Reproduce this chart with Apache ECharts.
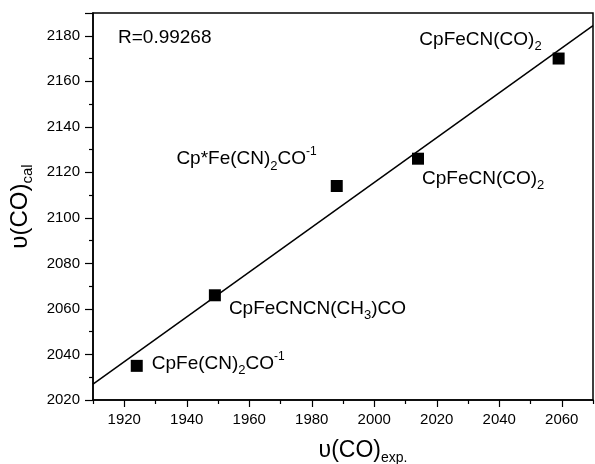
<!DOCTYPE html>
<html>
<head>
<meta charset="utf-8">
<script src="https://cdn.jsdelivr.net/npm/echarts@6/dist/echarts.min.js"></script>
<style>
  html, body { margin: 0; padding: 0; background: #fff; }
  #chart { width: 595px; height: 464px; }
</style>
</head>
<body>
<div id="chart"></div>
<script>
// measured points: v(CO) exp. vs v(CO) cal
var expVals = [1924, 1949, 1988, 2014, 2059]
var calVals = [2035, 2066, 2114, 2126, 2170]
var pointLabels = [
  '{n|CpFe(CN)}{sub|2}{n|CO}{sup|-1}',
  '{n|CpFeCNCN(CH}{sub|3}{n|)CO}',
  '{n|Cp*Fe(CN)}{sub|2}{n|CO}{sup|-1}',
  '{n|CpFeCN(CO)}{sub|2}',
  '{n|CpFeCN(CO)}{sub|2}'
]
// fitted line end points
var fitX = [1910, 2070]
var fitY = [2027, 2184.5]
var xMajorTicks = [1920, 1940, 1960, 1980, 2000, 2020, 2040, 2060]
var xMinorTicks = [1910, 1930, 1950, 1970, 1990, 2010, 2030, 2050, 2070]
var rText = 'R=0.99268'

var FONT = '"Liberation Sans", Arial, sans-serif'

// label placement per point: position, distance, offset
var labelPlace = [
  { position: 'right', distance: 9, offset: [0, -2] },
  { position: 'right', distance: 8, offset: [0, 13] },
  { position: 'left', distance: 14, offset: [0, -27] },
  { position: 'right', distance: 5, offset: [-7, 20] },
  { position: 'left', distance: 11, offset: [0, -19] }
]

var richStyle = {
  n: { fontSize: 19, fontFamily: FONT, color: '#000' },
  sub: { fontSize: 13, fontFamily: FONT, color: '#000', verticalAlign: 'bottom', padding: [14, 0, 0, 0] },
  sup: { fontSize: 12, fontFamily: FONT, color: '#000', verticalAlign: 'top', padding: [0, 0, 10, 0] }
}

var scatterData = []
for (var i = 0; i < expVals.length; i++) {
  scatterData.push({
    value: [expVals[i], calVals[i]],
    label: {
      show: true,
      formatter: pointLabels[i],
      position: labelPlace[i].position,
      distance: labelPlace[i].distance,
      offset: labelPlace[i].offset,
      rich: richStyle
    }
  })
}

function plain(v) { return String(v) }

var chart = echarts.init(document.getElementById('chart'), null, { renderer: 'canvas' })
chart.setOption({
  backgroundColor: '#fff',
  animation: false,
  textStyle: { fontFamily: FONT },
  grid: {
    left: 93,
    top: 13,
    right: 2,
    bottom: 64,
    outerBoundsMode: 'none',
    containLabel: false,
    show: true,
    borderColor: '#000',
    borderWidth: 1.5
  },
  graphic: [{
    type: 'text',
    left: 118,
    top: 28,
    style: { text: rText, fontSize: 19, fontFamily: FONT, fill: '#000' }
  }],
  xAxis: [{
    type: 'value',
    min: 1910,
    max: 2070,
    splitLine: { show: false },
    axisLine: { lineStyle: { color: '#000', width: 1.5 } },
    axisTick: { customValues: xMajorTicks, length: 7, lineStyle: { color: '#000', width: 1.2 } },
    axisLabel: { customValues: xMajorTicks, formatter: plain, color: '#000', fontSize: 15, margin: 12, fontFamily: FONT },
    name: '{u|υ(CO)}{s|exp.}',
    nameLocation: 'middle',
    nameGap: 37,
    nameTextStyle: {
      padding: [0, 0, 0, 40],
      rich: {
        u: { fontSize: 23, fontFamily: FONT, color: '#000' },
        s: { fontSize: 14, fontFamily: FONT, color: '#000', verticalAlign: 'bottom', padding: [14, 0, 0, 0] }
      }
    }
  }, {
    type: 'value',
    min: 1910,
    max: 2070,
    position: 'bottom',
    splitLine: { show: false },
    axisLine: { show: false },
    axisTick: { customValues: xMinorTicks, length: 4, lineStyle: { color: '#000', width: 1.2 } },
    axisLabel: { show: false }
  }],
  yAxis: {
    type: 'value',
    min: 2020,
    max: 2190,
    interval: 20,
    splitLine: { show: false },
    axisLine: { show: true, lineStyle: { color: '#000', width: 1.5 } },
    axisTick: { show: true, length: 8, lineStyle: { color: '#000', width: 1.2 } },
    minorTick: { show: true, splitNumber: 2, length: 4, lineStyle: { color: '#000', width: 1.2 } },
    axisLabel: { formatter: plain, color: '#000', fontSize: 15, margin: 13, fontFamily: FONT, showMaxLabel: false },
    name: '{u|υ(CO)}{s|cal}',
    nameLocation: 'middle',
    nameGap: 58,
    nameTextStyle: {
      rich: {
        u: { fontSize: 24, fontFamily: FONT, color: '#000' },
        s: { fontSize: 15, fontFamily: FONT, color: '#000', verticalAlign: 'bottom', padding: [14, 0, 0, 0] }
      }
    }
  },
  series: [{
    name: 'fit',
    type: 'line',
    data: [[fitX[0], fitY[0]], [fitX[1], fitY[1]]],
    showSymbol: false,
    lineStyle: { color: '#000', width: 1.5 },
    z: 2
  }, {
    name: 'points',
    type: 'scatter',
    symbol: 'rect',
    symbolSize: 12,
    itemStyle: { color: '#000', opacity: 1 },
    data: scatterData,
    z: 3
  }]
})
</script>
</body>
</html>
